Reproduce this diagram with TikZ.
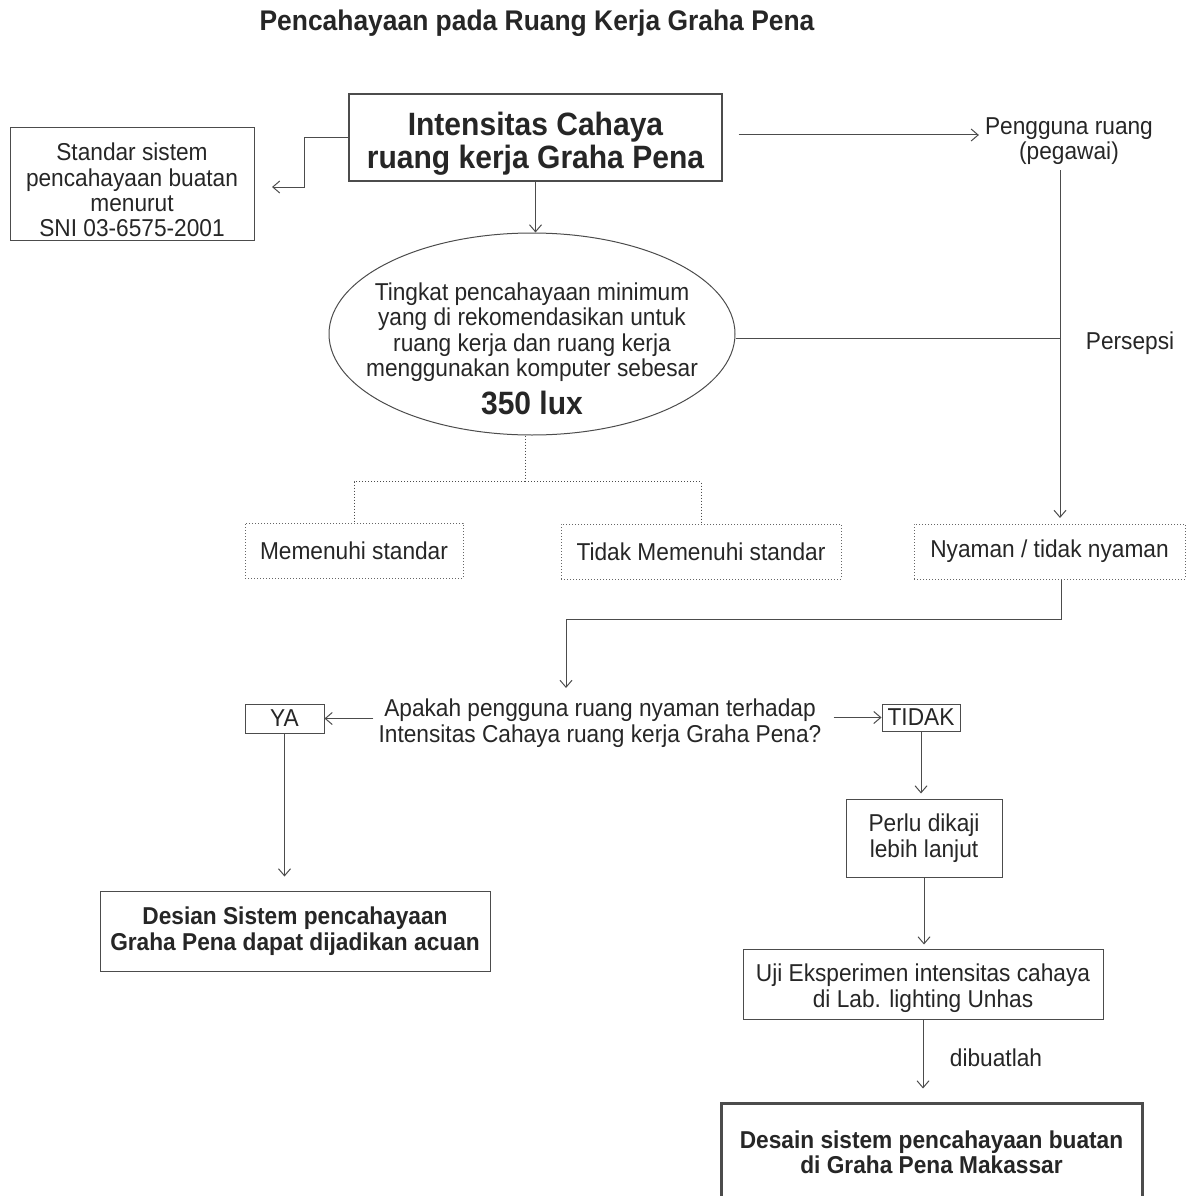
\documentclass[tikz,border=0pt]{standalone}
\usepackage{fontspec}
\setmainfont[FakeStretch=0.93]{Liberation Sans}
\usepackage{tikz}
\usetikzlibrary{arrows.meta, positioning, calc, shapes.geometric}

\tikzset{
  teks/.style={font=\fontsize{24.4}{25.4}\selectfont, text=black!85, align=center, inner sep=0pt},
  tebal/.style={font=\bfseries\fontsize{24.4}{25.4}\selectfont},
  besar/.style={font=\bfseries\fontsize{32.3}{33}\selectfont},
  kotak/.style={teks, draw=black!70, line width=1pt},
  titik/.style={teks, draw=black!60, dotted, line width=1pt},
  garis/.style={draw=black!70, line width=1pt},
  panah/.style={garis, -{Straight Barb[length=7pt,width=12pt]}},
}

\begin{document}
\begin{tikzpicture}[x=1pt, y=-1pt]
  \useasboundingbox (0,0) rectangle (1188,1196);
  % judul
  \node[teks, font=\bfseries\fontsize{28.4}{30}\selectfont] (judul) at (537,23) {Pencahayaan pada Ruang Kerja Graha Pena};
  % kotak utama
  \node[kotak, line width=1.4pt, minimum width=373pt, minimum height=87pt] (utama) at (535.5,137.5) {};
  \node[teks, besar] (utamateks) at (535.5,144) {Intensitas Cahaya\\ruang kerja Graha Pena};
  % standar SNI
  \node[kotak, minimum width=244pt, minimum height=112pt] (standar) at (132,184) {};
  \node[teks] (standarteks) at (132,190) {Standar sistem\\pencahayaan buatan\\menurut\\SNI 03-6575-2001};
  % pengguna ruang
  \node[teks] (pengguna) at (1069,141) {Pengguna ruang\\(pegawai)};
  % elips tingkat pencahayaan
  \node[draw=black!70, line width=1pt, ellipse, minimum width=406pt, minimum height=202pt] (tingkat) at (532,334) {};
  \node[teks] (tingkatteks) at (532,349) {Tingkat pencahayaan minimum\\yang di rekomendasikan untuk\\ruang kerja dan ruang kerja\\menggunakan komputer sebesar\\[9pt]{\bfseries\fontsize{32.3}{33}\selectfont 350 lux}};
  % hasil pengukuran
  \node[titik, minimum width=218pt, minimum height=55pt] (memenuhi) at (354,550.5) {Memenuhi standar};
  \node[titik, minimum width=280pt, minimum height=55pt] (takmemenuhi) at (701,551.5) {Tidak Memenuhi standar};
  \node[titik, minimum width=271pt, minimum height=55pt] (nyaman) at (1049.5,551.5) {Nyaman / tidak nyaman};
  % pertanyaan
  \node[teks] (soal) at (600,723) {Apakah pengguna ruang nyaman terhadap\\Intensitas Cahaya ruang kerja Graha Pena?};
  \node[kotak, minimum width=79pt, minimum height=29pt] (ya) at (284.5,718.5) {YA};
  \node[kotak, minimum width=78pt, minimum height=27pt] (tidak) at (921,717.5) {TIDAK};
  % cabang ya
  \node[kotak, tebal, minimum width=390pt, minimum height=80pt] (acuan) at (295,931)
    {Desian Sistem pencahayaan\\Graha Pena dapat dijadikan acuan};
  % cabang tidak
  \node[kotak, minimum width=156pt, minimum height=78pt] (perlu) at (924,838) {Perlu dikaji\\lebih lanjut};
  \node[kotak, minimum width=360pt, minimum height=70pt] (uji) at (923,984) {};
  \node[teks] (ujiteks) at (923,988) {Uji Eksperimen intensitas cahaya\\di Lab. lighting Unhas};
  \node[kotak, tebal, line width=3pt, minimum width=421pt, minimum height=98pt] (akhir) at (931.5,1152)
    {Desain sistem pencahayaan buatan\\di Graha Pena Makassar};
  % label
  \node[teks] (persepsi) at (1130,343) {Persepsi};
  \node[teks] (dibuat) at (996,1058) {dibuatlah};

  % titik bantu
  \coordinate (kiri) at (272,187);
  \coordinate (atas) at (1060,170);
  \coordinate (bawah) at (1060,518);
  \coordinate (masuk) at (566,688);

  % penghubung
  \draw[panah] (utama.west) -- ++(-44,0) |- (kiri);
  \draw[panah] (utama.south) -- (utama.south |- tingkat.north);
  \draw[panah] ([xshift=16pt,yshift=2.5pt]utama.east) -- ([xshift=-6pt,yshift=2.5pt]utama.east -| pengguna.west);
  \draw[panah] (atas) -- (bawah);
  \draw[garis] ([yshift=-4pt]tingkat.east) -- ([yshift=-4pt]tingkat.east -| atas);
  \draw[garis, dotted] ([xshift=-7pt]tingkat.south) -- ++(0,46) coordinate (cabang);
  \draw[garis, dotted] (cabang) -| (memenuhi.north);
  \draw[garis, dotted] (cabang) -| (takmemenuhi.north);
  \draw[panah] ([xshift=12pt]nyaman.south) -- ++(0,40) -| (masuk);
  \draw[panah] ([xshift=-5pt]soal.west |- ya.east) -- (ya.east);
  \draw[panah] ([xshift=12pt]soal.east |- tidak.west) -- (tidak.west);
  \draw[panah] (ya.south) -- ([yshift=14pt]acuan.north -| ya.south);
  \draw[panah] (tidak.south) -- ([yshift=5pt]perlu.north -| tidak.south);
  \draw[panah] (perlu.south) -- ([yshift=4pt]uji.north -| perlu.south);
  \draw[panah] (uji.south) -- ([yshift=13pt]akhir.north -| uji.south);
\end{tikzpicture}
\end{document}
